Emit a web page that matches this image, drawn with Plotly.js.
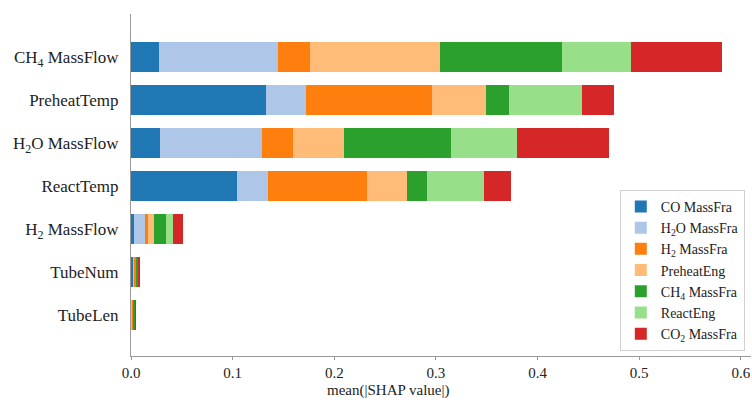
<!DOCTYPE html>
<html>
<head>
<meta charset="utf-8">
<script src="https://cdn.plot.ly/plotly-3.0.1.min.js"></script>
<style>html,body{margin:0;padding:0;background:#fff;}#chart{width:752px;height:400px;}</style>
</head>
<body>
<div id="chart"></div>
<script>
const features = ["CH<sub>4</sub> MassFlow", "PreheatTemp", "H<sub>2</sub>O MassFlow", "ReactTemp", "H<sub>2</sub> MassFlow", "TubeNum", "TubeLen"];
const seriesNames = ["CO MassFra", "H<sub>2</sub>O MassFra", "H<sub>2</sub> MassFra", "PreheatEng", "CH<sub>4</sub> MassFra", "ReactEng", "CO<sub>2</sub> MassFra"];
const coMassFra     = [0.028, 0.133, 0.029, 0.104, 0.0025, 0.0020, 0.0003];
const h2oMassFra    = [0.117, 0.039, 0.100, 0.031, 0.0108, 0.0010, 0.0003];
const h2MassFra     = [0.031, 0.124, 0.030, 0.097, 0.0032, 0.0015, 0.0010];
const preheatEng    = [0.128, 0.053, 0.051, 0.040, 0.0059, 0.0005, 0.0003];
const ch4MassFra    = [0.120, 0.023, 0.105, 0.019, 0.0116, 0.0015, 0.0019];
const reactEng      = [0.068, 0.072, 0.065, 0.056, 0.0071, 0.0005, 0.0003];
const co2MassFra    = [0.089, 0.031, 0.090, 0.027, 0.0099, 0.0015, 0.0004];
const xTicks = [0, 0.1, 0.2, 0.3, 0.4, 0.5, 0.6];
const xTickLabels = ["0.0", "0.1", "0.2", "0.3", "0.4", "0.5", "0.6"];
const xTitle = "mean(|SHAP value|)";

const values = [coMassFra, h2oMassFra, h2MassFra, preheatEng, ch4MassFra, reactEng, co2MassFra];
const colors = ["#1f77b4", "#aec7e8", "#ff7f0e", "#ffbb78", "#2ca02c", "#98df8a", "#d62728"];

const traces = values.map((v, i) => ({
  type: "bar",
  orientation: "h",
  name: seriesNames[i],
  x: v,
  y: features,
  marker: {color: colors[i], line: {width: 0}},
  hoverinfo: "x+name"
}));

const font = "Liberation Serif, Times New Roman, serif";
const layout = {
  width: 752, height: 400,
  margin: {l: 131, r: 1, t: 14, b: 44},
  barmode: "stack",
  bargap: 0.3,
  paper_bgcolor: "#fff",
  plot_bgcolor: "#fff",
  font: {family: font, size: 16, color: "#222"},
  showlegend: true,
  legend: {
    x: 0.99, xanchor: "right", y: 0.015, yanchor: "bottom",
    traceorder: "normal",
    bordercolor: "#d0d0d0", borderwidth: 1,
    bgcolor: "rgba(255,255,255,0.9)",
    font: {family: font, size: 14, color: "#222"},
    tracegroupgap: 0
  },
  xaxis: {
    range: [0, 0.61],
    tickvals: xTicks, ticktext: xTickLabels,
    showgrid: false, zeroline: false,
    showline: true, linecolor: "#999", linewidth: 1,
    ticks: "outside", ticklen: 3, tickcolor: "#999",
    tickfont: {family: font, size: 15, color: "#222"},
    automargin: false
  },
  yaxis: {
    type: "category",
    categoryorder: "array", categoryarray: features,
    range: [6.95, -1],
    showgrid: false, zeroline: false,
    showline: true, linecolor: "#999", linewidth: 1,
    ticks: "", ticklabelstandoff: 8,
    tickfont: {family: font, size: 17, color: "#222"},
    automargin: false
  },
  annotations: [{
    text: xTitle, xref: "paper", yref: "paper", x: 0.415, y: 0,
    xanchor: "center", yanchor: "top", yshift: -25, showarrow: false,
    borderpad: 0,
    font: {family: font, size: 15, color: "#222"}
  }]
};

Plotly.newPlot("chart", traces, layout, {displayModeBar: false, staticPlot: true});
</script>
</body>
</html>
